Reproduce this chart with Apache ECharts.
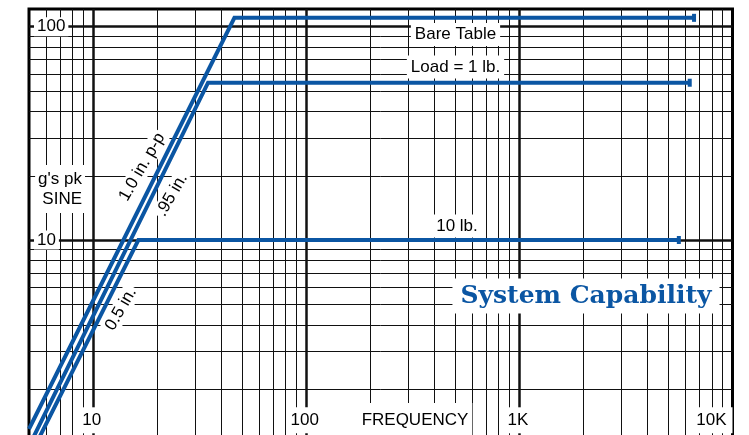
<!DOCTYPE html>
<html>
<head>
<meta charset="utf-8">
<script src="https://cdn.jsdelivr.net/npm/echarts@6/dist/echarts.min.js"></script>
<style>
  html, body { margin: 0; padding: 0; background: #fff; }
  #chart { width: 749px; height: 435px; }
</style>
</head>
<body>
<div id="chart"></div>
<script>
// Sine-vibration capability envelopes: [frequency (Hz), acceleration (g's pk)]
const bareTable = [[5, 1.3], [46, 110], [6600, 110]];
const load1lb = [[5, 1.08], [34.6, 54.6], [6300, 54.6]];
const load10lb = [[5, 0.95], [16.3, 10], [5600, 10]];

// Log-paper rules
const freqMinor = [6, 7, 8, 9, 20, 30, 40, 50, 60, 70, 80, 90,
  200, 300, 400, 500, 600, 700, 800, 900,
  2000, 3000, 4000, 5000, 6000, 7000, 8000, 9000];
const freqMajor = [10, 100, 1000];
const gMinor = [2, 3, 4, 5, 6, 7, 8, 9, 20, 30, 40, 50, 60, 70, 80, 90];
const gMajor = [10, 100];

// Tick labels
const freqTickLabels = { 10: '10', 100: '100', 1000: '1K', 10000: '10K' };
const gTickLabels = { 10: '10', 100: '100' };

const BLUE = '#0b56a3';
const SANS = '"Liberation Sans", Arial, sans-serif';

function envelope(name, pts) {
  return {
    type: 'line',
    name: name,
    z: 3,
    silent: true,
    animation: false,
    symbol: 'none',
    showSymbol: true,
    lineStyle: { color: BLUE, width: 4, join: 'miter', cap: 'butt' },
    itemStyle: { color: BLUE },
    data: pts.map(function (p, i) {
      return i === pts.length - 1
        ? { value: p, symbol: 'rect', symbolSize: [4, 8] }
        : { value: p, symbol: 'none' };
    })
  };
}

const ruleData = []
  .concat(freqMinor.map(v => ({ xAxis: v, lineStyle: { width: 1 } })))
  .concat(freqMajor.map(v => ({ xAxis: v, lineStyle: { width: 2.5 } })))
  .concat(gMinor.map(v => ({ yAxis: v, lineStyle: { width: 1 } })))
  .concat(gMajor.map(v => ({ yAxis: v, lineStyle: { width: 2.5 } })));

const chart = echarts.init(document.getElementById('chart'), null, { renderer: 'canvas' });

function note(text, x, y, extra) {
  return {
    type: 'text',
    x: x, y: y,
    z: 4,
    silent: true,
    rotation: (extra && extra.rotation) || 0,
    style: Object.assign({
      text: text,
      align: 'center',
      verticalAlign: 'middle',
      font: '17px ' + SANS,
      fill: '#000',
      backgroundColor: '#fff',
      padding: [3, 4]
    }, (extra && extra.style) || {})
  };
}

const tilt = 60 * Math.PI / 180;

chart.setOption({
  animation: false,
  backgroundColor: '#fff',
  grid: {
    left: 29, top: 9, width: 703.5, height: 444.3,
    outerBoundsMode: 'none',
    containLabel: false,
    show: true, borderColor: '#000', borderWidth: 3, backgroundColor: '#fff'
  },
  xAxis: {
    type: 'log', logBase: 10, min: 5, max: 10000, z: 6,
    axisLine: { show: false }, axisTick: { show: false }, splitLine: { show: false },
    axisLabel: {
      inside: true, margin: 20,
      showMinLabel: false, alignMaxLabel: 'right',
      formatter: v => freqTickLabels[Math.round(v)] || '',
      color: '#000', fontSize: 17, fontFamily: SANS,
      backgroundColor: '#fff', padding: [5, 6, 4, 3]
    }
  },
  yAxis: {
    type: 'log', logBase: 10, min: 1, max: 121, z: 6,
    axisLine: { show: false }, axisTick: { show: false }, splitLine: { show: false },
    axisLabel: {
      inside: true, margin: 5,
      showMinLabel: false, showMaxLabel: false,
      formatter: v => gTickLabels[Math.round(v)] || '',
      color: '#000', fontSize: 17, fontFamily: SANS,
      backgroundColor: '#fff', padding: [1, 3]
    }
  },
  series: [
    {
      type: 'line', name: 'rules', data: [], z: 1, silent: true, animation: false,
      markLine: {
        z: 1,
        silent: true, animation: false,
        symbol: ['none', 'none'],
        label: { show: false },
        emphasis: { disabled: true },
        lineStyle: { type: 'solid', color: '#111', width: 1 },
        data: ruleData
      }
    },
    envelope('Bare Table', bareTable),
    envelope('Load = 1 lb.', load1lb),
    envelope('10 lb.', load10lb)
  ],
  graphic: [
    note("g's pk\nSINE", 85, 189, { style: { align: 'right', lineHeight: 20, padding: [4, 3] } }),
    note('Bare Table', 455.5, 34.5),
    note('Load = 1 lb.', 455.5, 67),
    note('10 lb.', 457, 226),
    note('FREQUENCY', 415, 420, { style: { padding: [7, 4, 10, 4] } }),
    note('1.0 in. p-p', 142, 167, { rotation: tilt, style: { padding: [1, 2] } }),
    note('.95 in.', 172, 195, { rotation: tilt, style: { padding: [1, 2] } }),
    note('0.5 in.', 121, 309, { rotation: tilt, style: { padding: [1, 2] } }),
    note('System Capability', 586, 296, {
      style: { font: 'bold 25px "DejaVu Serif", serif', fill: BLUE, padding: [5, 8] }
    })
  ]
});
</script>
</body>
</html>
